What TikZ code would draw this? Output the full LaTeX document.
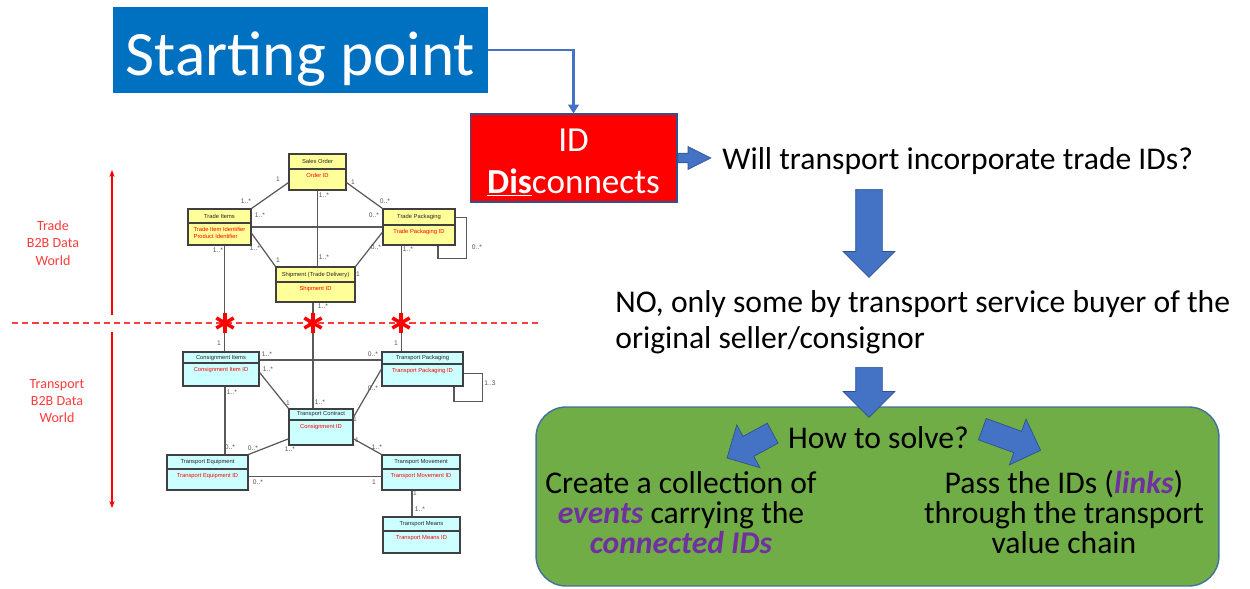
\documentclass[tikz,border=0pt]{standalone}
\usepackage{fontspec}
\setmainfont{Carlito}
\newfontfamily\umlfont{Liberation Sans}
\usepackage{xcolor}
\usetikzlibrary{arrows.meta,positioning,shapes.arrows}

\definecolor{spblue}{HTML}{0070C0}
\definecolor{flowblue}{HTML}{4472C4}
\definecolor{edgeblue}{HTML}{2F528F}
\definecolor{solvegreen}{HTML}{70AD47}
\definecolor{solveedge}{HTML}{41719C}
\definecolor{linkpurple}{HTML}{7030A0}
\definecolor{worldred}{HTML}{FF3B3B}
\definecolor{umlyellow}{HTML}{FFFF99}
\definecolor{umlcyan}{HTML}{CCFFFF}
\definecolor{umledge}{HTML}{404040}
\definecolor{multgray}{HTML}{555555}

\newcommand{\idlink}[1]{\textcolor{linkpurple}{\textbf{\textit{#1}}}}

\begin{document}
\begin{tikzpicture}[
    x=0.02cm, y=-0.02cm,
    uml/.style={rectangle, draw=umledge, line width=0.6pt, inner sep=0pt},
    umltitle/.style={font=\umlfont\fontsize{3.3}{4}\selectfont, text=black!85, inner sep=0pt},
    umlid/.style={font=\umlfont\fontsize{3.3}{4}\selectfont, text=red, inner sep=0pt, align=left},
    assoc/.style={draw=gray!70!black, line width=0.7pt},
    mult/.style={font=\umlfont\fontsize{3.8}{4}\selectfont, text=multgray, inner sep=0pt},
    world/.style={font=\fontsize{8}{9.9}\selectfont, text=worldred, align=center},
    say/.style={font=\fontsize{18}{20.4}\selectfont, inner sep=0pt},
    block/.style={single arrow, fill=flowblue, draw=edgeblue, line width=0.4pt, inner xsep=0pt, anchor=tail}
]
\useasboundingbox (0,0) rectangle (1250,588);

% Flow on the right
\node[fill=spblue, text=white, minimum width=75mm, minimum height=17.2mm, inner sep=0pt,
      text height=29.5pt, text depth=0pt, font=\fontsize{36}{40}\selectfont] (sp) at (300.5,50) {Starting point};
\node[fill=red, draw=edgeblue, line width=0.6pt, minimum width=41.4mm, minimum height=17.6mm, inner sep=0pt] (id) at (573.5,158) {};
\node[text=white, inner sep=0pt, anchor=base, align=center, font=\fontsize{20}{23.8}\selectfont] (idtxt) at (573.5,193)
    {ID\\\underline{\textbf{Dis}}connects};
\draw[flowblue, line width=1.7pt, -{Triangle[width=6pt,length=5pt]}] (sp.east) -| (id.north);
\node[block, inner ysep=0.9mm, minimum height=6.6mm, minimum width=4.4mm, single arrow head extend=1.3mm, single arrow tip angle=53] (idarr) at (id.east) {};

\node[say, anchor=base west] (q1) at (722,169) {Will transport incorporate trade IDs?};
\node[block, rotate=-90, inner ysep=2.6mm, minimum height=17.6mm, minimum width=10.2mm, single arrow head extend=2.5mm] (down1) at (869,189) {};
\node[say, anchor=base west, align=left] (ans) at (615,348) {NO, only some by transport service buyer of the\\original seller/consignor};

% How to solve
\node[draw=solveedge, fill=solvegreen, line width=0.8pt, rounded corners=6mm, minimum width=136.6mm,
      minimum height=35.8mm, inner sep=0pt] (solve) at (877.5,496.5) {};
\node[block, rotate=-90, inner ysep=2.6mm, minimum height=10mm, minimum width=10.2mm, single arrow head extend=2.5mm] (down2) at (869,367) {};
\node[say, anchor=base] (how) at (878.5,448) {How to solve?};
\node[block, rotate=208.5, inner ysep=2.2mm, minimum height=10.4mm, minimum width=9.6mm, single arrow head extend=2.6mm] (toleft) at (773,433) {};
\node[block, rotate=-20, inner ysep=2.2mm, minimum height=12.4mm, minimum width=9.6mm, single arrow head extend=2.6mm] (toright) at (982,429) {};
\node[say, anchor=base, align=center, font=\fontsize{18}{17}\selectfont] (events) at (681,553)
    {Create a collection of\\\idlink{events} carrying the\\\idlink{connected IDs}};
\node[say, anchor=base, align=center, font=\fontsize{18}{17}\selectfont] (pass) at (1064,553)
    {Pass the IDs (\idlink{links})\\through the transport\\value chain};

% Two worlds
\draw[worldred, line width=0.6pt, dash pattern=on 3.5pt off 2.3pt] (12,323) -- (540,323);
\draw[red, line width=0.6pt, -{Stealth[length=4pt,width=3pt]}] (112,315) -- (112,170);
\draw[red, line width=0.6pt, -{Stealth[length=4pt,width=3pt]}] (112,332) -- (112,508);
\node[world] (trade) at (53,243) {Trade\\B2B Data\\World};
\node[world] (transport) at (57,401) {Transport\\B2B Data\\World};

% Classes
\foreach \nm/\xa/\ya/\xb/\yb/\dv/\clr/\ttl/\idt in {
    so/289/154/346/190/169/umlyellow/Sales Order/Order ID,
    ti/188/209/251/245/223/umlyellow/Trade Items/{Trade Item Identifier\\Product Identifier},
    tp/383/209/455/245/225/umlyellow/Trade Packaging/Trade Packaging ID,
    sh/276/267/355/302/282/umlyellow/Shipment (Trade Delivery)/Shipment ID,
    ci/183/352/259/386/363/umlcyan/Consignment Items/Consignment Item ID,
    tpk/382/352/463/386/364/umlcyan/Transport Packaging/Transport Packaging ID,
    tc/289/409/353/445/420/umlcyan/Transport Contract/Consignment ID,
    te/167/455/248/490/469/umlcyan/Transport Equipment/Transport Equipment ID,
    tm/382/455/460/490/469/umlcyan/Transport Movement/Transport Movement ID,
    tmn/383/517/460/553/531/umlcyan/Transport Means/Transport Means ID} {
    \node[uml, fill=\clr, minimum width=(\xb-\xa)*0.2mm, minimum height=(\yb-\ya)*0.2mm] (\nm) at ({(\xa+\xb)/2},{(\ya+\yb)/2}) {};
    \draw[umledge, line width=0.6pt] (\xa,\dv) -- (\xb,\dv);
    \node[umltitle] (\nm-t) at ({(\xa+\xb)/2},{(\ya+\dv)/2}) {\ttl};
    \node[umlid, anchor=north] (\nm-id) at ({(\xa+\xb)/2},\dv+4) {\idt};
}

% Associations
\draw[assoc] (so.200) -- (ti.north east);
\draw[assoc] (so.340) -- (tp.north west);
\draw[assoc] (so.south) -- (so.south |- sh.north);
\draw[assoc] (ti.east) -- (ti.east -| tp.west);
\draw[assoc] (ti.-11) -- (sh.north west);
\draw[assoc] (tp.188) -- (sh.north east);
\draw[assoc] (tp.15) -- ++(11,0) -- ++(0,41) -| ([xshift=10.8pt]tp.south);
\fill[umledge] ([xshift=10.8pt]tp.south) circle (0.9pt);
\draw[assoc] ([xshift=3pt]ti.south) -- ([xshift=3pt]ti.south |- ci.north);
\draw[assoc] ([xshift=-1.4pt]sh.south) -- ([xshift=-1.4pt]sh.south |- tc.north);
\draw[assoc] ([xshift=-10pt]tp.south) -- ([xshift=-10pt]tp.south |- tpk.north);
\draw[assoc] (ci.13) -- (ci.13 -| tpk.west);
\draw[assoc] (ci.-5) -- (tc.north west);
\draw[assoc] (tpk.west) -- (tc.17);
\draw[assoc] (tpk.-6) -- ++(19,0) -- ++(0,28) -| ([xshift=17.9pt]tpk.south);
\fill[umledge] ([xshift=17.9pt]tpk.south) circle (0.9pt);
\draw[assoc] ([xshift=2.3pt]ci.south) -- ([xshift=2.3pt]ci.south |- te.north);
\draw[assoc] (tc.200) -- (te.north east);
\draw[assoc] (tc.-20) -- (tm.north west);
\draw[assoc] (te.-6) -- (te.-6 -| tm.west);
\draw[assoc] ([xshift=-5.1pt]tm.south) -- ([xshift=-5.1pt]tm.south |- tmn.north);

% Multiplicities
\foreach \px/\py/\m [count=\k] in {
    278/179/1, 353/182/1, 246/201/1..*, 260/215/1..*, 324/195/1..*, 385/201/0..*,
    374/215/0..*, 218/250/1..*, 255/248/1..*, 278/260/1, 324/257/1..*, 376/247/0..*,
    408/249/1..*, 358/274/1, 323/306/1..*, 477/247/0..*,
    219/343/1, 396/343/1, 267/354/1..*, 373/354/0..*, 268/369/1..*, 232/392/1..*,
    373/388/0..*, 490/383/1..3, 288/403/1, 320/402/1..*, 355/419/1, 230/447/0..*,
    253/448/0..*, 290/449/1..*, 357/440/1, 377/447/1..*, 258/482/0..*, 374/482/1,
    415/493/1, 420/509/1..*}
    \node[mult] (m\k) at (\px,\py) {\m};

% Broken links
\foreach \ax in {225,313,401}
    \foreach \ang in {90,30,150}
        \draw[red, line width=2pt] (\ax,323) ++(\ang:10) -- ++(\ang+180:20);

\end{tikzpicture}
\end{document}
